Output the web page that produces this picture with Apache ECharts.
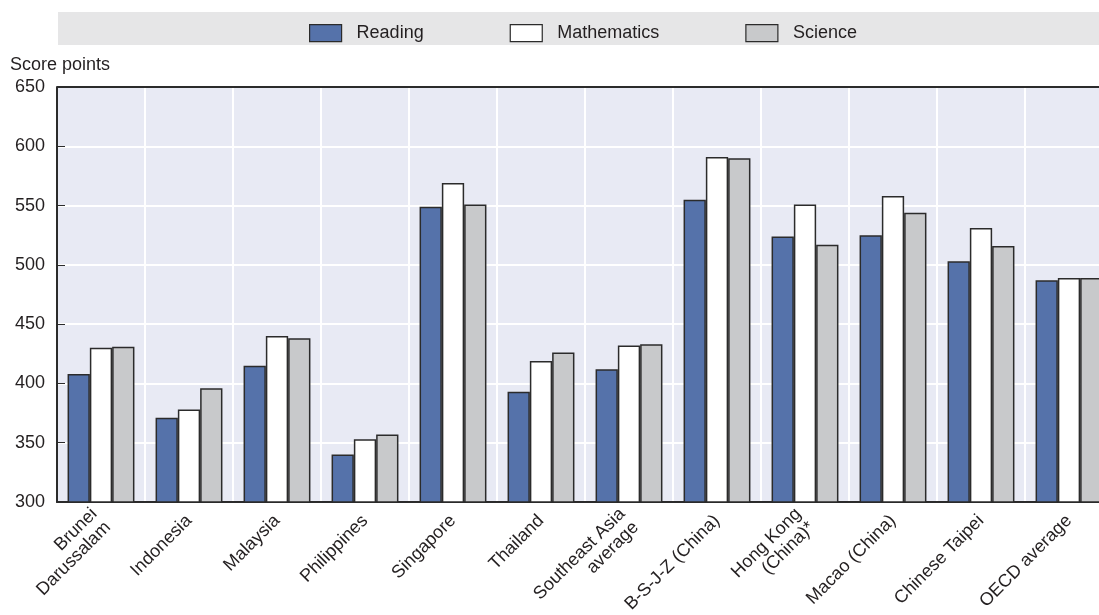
<html>
  <head>
    <meta charset="utf-8" />
    <script src="https://cdn.jsdelivr.net/npm/echarts@6.0.0/dist/echarts.min.js"></script>
    <style>
      body {
        height: 615px;
        width: 1099px;
        margin: 0;
        background: #ffffff;
      }

      #main {
        height: 615px;
        width: 1099px;
      }
    </style>
  </head>
  <body>
    <div id="main"></div>
    <script>
      var categories = [
        'Brunei\nDarussalam',
        'Indonesia',
        'Malaysia',
        'Philippines',
        'Singapore',
        'Thailand',
        'Southeast Asia\naverage',
        'B-S-J-Z (China)',
        'Hong Kong\n(China)*',
        'Macao (China)',
        'Chinese Taipei',
        'OECD average',
      ];
      var reading = [408, 371, 415, 340, 549, 393, 412, 555, 524, 525, 503, 487];
      var mathematics = [430, 378, 440, 353, 569, 419, 432, 591, 551, 558, 531, 489];
      var science = [431, 396, 438, 357, 551, 426, 433, 590, 517, 544, 516, 489];

      var font = '"Liberation Sans Narrow", "Liberation Sans", sans-serif';
      var border = '#2b2b2b';

      var chart = echarts.init(document.getElementById('main'));

      function barSeries(name, data, color) {
        return {
          name: name,
          type: 'bar',
          data: data,
          barGap: '0%',
          barCategoryGap: '24%',
          itemStyle: {
            color: color,
            borderColor: border,
            borderWidth: 1.5,
          },
          emphasis: { disabled: true },
        };
      }

      chart.setOption({
        animation: false,
        textStyle: { fontFamily: font },
        graphic: [
          {
            type: 'rect',
            left: 58,
            top: 12,
            shape: { width: 1041, height: 33 },
            style: { fill: '#e6e6e7' },
            z: -1,
          },
          {
            type: 'text',
            left: 10,
            top: 56,
            style: {
              text: 'Score points',
              font: '18px ' + font,
              fill: '#231f20',
            },
          },
        ],
        legend: {
          top: 19,
          left: 304,
          icon: 'rect',
          itemWidth: 32,
          itemHeight: 17,
          itemGap: 86,
          itemStyle: { borderColor: border, borderWidth: 1.2 },
          textStyle: { fontSize: 18, color: '#231f20', fontFamily: font, padding: [0, 0, 0, 10] },
          data: ['Reading', 'Mathematics', 'Science'],
        },
        grid: {
          left: 57,
          top: 87,
          width: 1056,
          height: 415,
          outerBoundsMode: 'none',
          containLabel: false,
          show: true,
          backgroundColor: '#e8eaf4',
          borderWidth: 0,
        },
        xAxis: {
          type: 'category',
          data: categories,
          axisLine: { lineStyle: { color: border, width: 2 } },
          axisTick: { inside: true, length: 8, lineStyle: { color: '#666666' } },
          splitLine: { show: true, lineStyle: { color: '#ffffff', width: 2 } },
          axisLabel: {
            rotate: 45,
            interval: 0,
            fontSize: 18,
            color: '#231f20',
            fontFamily: font,
            margin: 16,
            lineHeight: 19,
          },
        },
        yAxis: {
          type: 'value',
          min: 300,
          max: 650,
          interval: 50,
          axisLine: { show: true, lineStyle: { color: border, width: 2 } },
          axisTick: { show: true, inside: true, length: 8, lineStyle: { color: border } },
          splitLine: { lineStyle: { color: '#ffffff', width: 2 } },
          axisLabel: { fontSize: 18, color: '#231f20', fontFamily: font, margin: 12 },
        },
        series: [
          barSeries('Reading', reading, '#5572aa'),
          barSeries('Mathematics', mathematics, '#ffffff'),
          barSeries('Science', science, '#c8c9cb'),
          {
            type: 'line',
            data: [],
            markLine: {
              silent: true,
              symbol: 'none',
              label: { show: false },
              lineStyle: { color: border, width: 2, type: 'solid' },
              data: [{ yAxis: 650 }],
            },
          },
        ],
      });
    </script>
  </body>
</html>
